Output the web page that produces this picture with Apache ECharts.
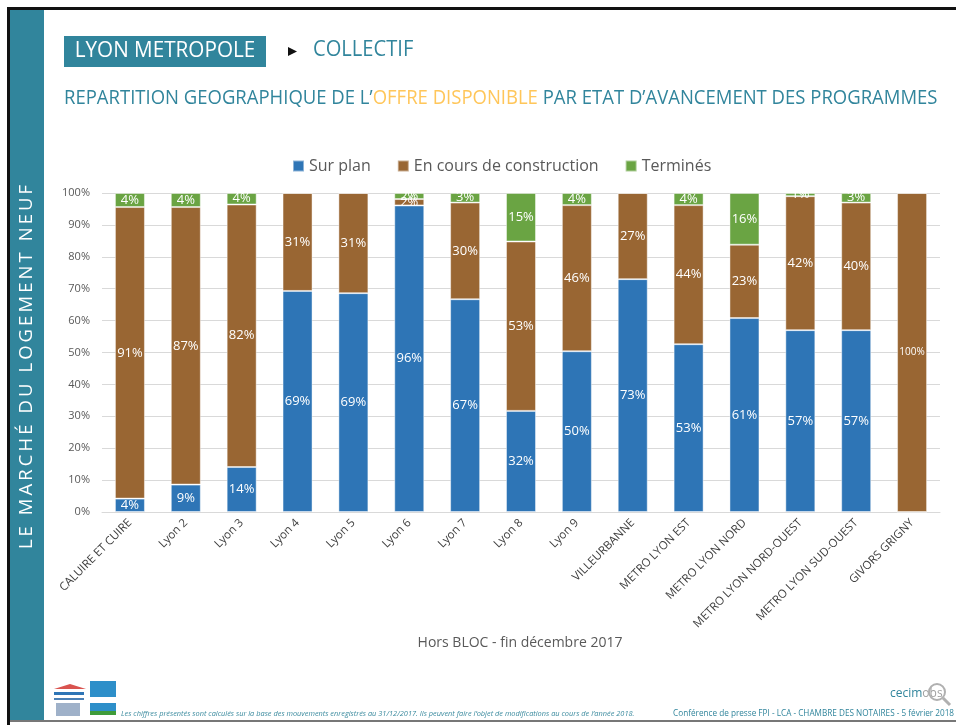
<!DOCTYPE html>
<html>
<head>
<meta charset="utf-8">
<title>Lyon Metropole - Collectif</title>
<script src="https://cdn.jsdelivr.net/npm/echarts@6/dist/echarts.min.js"></script>
<style>
  html, body { margin: 0; padding: 0; background: #fff; }
  #main { width: 956px; height: 725px; }
</style>
</head>
<body>
<div id="main"></div>
<script>
// categories (secteurs)
var categories = ['CALUIRE ET CUIRE', 'Lyon 2', 'Lyon 3', 'Lyon 4', 'Lyon 5', 'Lyon 6', 'Lyon 7', 'Lyon 8', 'Lyon 9',
  'VILLEURBANNE', 'METRO LYON EST', 'METRO LYON NORD', 'METRO LYON NORD-OUEST', 'METRO LYON SUD-OUEST', 'GIVORS GRIGNY'];

// parts en %
var surPlan      = [4.2, 8.6, 14.1, 69.3, 68.6, 96.1, 66.7, 31.7, 50.4, 73.0, 52.6, 60.8, 57.0, 57.0, 0];
var enCours      = [91.4, 87.0, 82.3, 30.7, 31.4, 2.0, 30.3, 53.1, 45.8, 27.0, 43.6, 23.0, 42.0, 40.0, 100];
var termines     = [4.4, 4.4, 3.6, 0, 0, 1.9, 3.0, 15.2, 3.8, 0, 3.8, 16.2, 1.0, 3.0, 0];

var yTicks = [0, 10, 20, 30, 40, 50, 60, 70, 80, 90, 100];

var teal = '#31859C';
var chartFont = '"Open Sans", sans-serif';

var chart = echarts.init(document.getElementById('main'), null, { renderer: 'canvas' });

function pctLabel(p) {
  if (!p.value) return '';
  return Math.round(p.value) + '%';
}

function makeSerie(name, values, color) {
  return {
    name: name,
    type: 'bar',
    stack: 'total',
    barWidth: 30,
    data: values.map(function (v) {
      // le 100% de Givors est écrit plus petit
      if (v === 100) return { value: v, label: { fontSize: 10 } };
      return v;
    }),
    itemStyle: {
      color: color,
      borderColor: 'rgba(255,255,255,0.45)',
      borderWidth: 1
    },
    label: {
      show: true,
      position: 'inside',
      color: '#fff',
      fontSize: 13,
      fontFamily: chartFont,
      formatter: pctLabel
    }
  };
}

// lettres espacées pour le bandeau vertical
var sideTitle = 'LE MARCHÉ DU LOGEMENT NEUF'.split('').join('\u2009');

var option = {
  backgroundColor: '#fff',
  animation: false,
  textStyle: { fontFamily: chartFont },
  legend: {
    top: 153,
    left: 287,
    itemWidth: 11,
    itemHeight: 11,
    itemGap: 26,
    icon: 'rect',
    textStyle: { color: '#595959', fontSize: 16, fontFamily: chartFont },
    data: ['Sur plan', 'En cours de construction', 'Terminés']
  },
  grid: {
    left: 102,
    right: 16,
    top: 193,
    bottom: 213
  },
  xAxis: {
    type: 'category',
    data: categories,
    axisLine: { lineStyle: { color: '#d9d9d9' } },
    axisTick: { show: false },
    axisLabel: {
      rotate: 45,
      interval: 0,
      color: '#404040',
      fontSize: 11.5,
      margin: 9,
      fontFamily: chartFont
    }
  },
  yAxis: {
    type: 'value',
    min: 0,
    max: 100,
    interval: 10,
    axisLine: { show: false },
    axisTick: { show: false },
    splitLine: { lineStyle: { color: '#d9d9d9' } },
    axisLabel: {
      color: '#595959',
      fontSize: 11,
      margin: 12,
      formatter: function (v) { return yTicks.indexOf(v) >= 0 ? v + '%' : ''; }
    }
  },
  series: [
    makeSerie('Sur plan', surPlan, '#2E75B6'),
    makeSerie('En cours de construction', enCours, '#996633'),
    makeSerie('Terminés', termines, '#6AA443')
  ],
  graphic: [
    // cadre noir
    { type: 'rect', shape: { x: 7, y: 7, width: 949, height: 3 }, style: { fill: '#111' } },
    { type: 'rect', shape: { x: 7, y: 7, width: 3, height: 718 }, style: { fill: '#111' } },
    { type: 'rect', shape: { x: 10, y: 720, width: 946, height: 2 }, style: { fill: '#777' } },
    // bandeau latéral
    { type: 'rect', shape: { x: 10, y: 10, width: 34, height: 710 }, style: { fill: teal } },
    {
      type: 'text', x: 27, y: 367, rotation: Math.PI / 2,
      style: {
        text: sideTitle, fill: '#fff', fontSize: 18.5,
        fontFamily: chartFont, align: 'center', verticalAlign: 'middle'
      }
    },
    // entête
    { type: 'rect', shape: { x: 64, y: 36, width: 202, height: 31 }, style: { fill: teal } },
    {
      type: 'text', x: 165, y: 51, scaleX: 0.94,
      style: {
        text: 'LYON METROPOLE', fill: '#fff', fontSize: 22, fontFamily: chartFont,
        align: 'center', verticalAlign: 'middle'
      }
    },
    { type: 'polygon', shape: { points: [[288, 47], [297, 51.5], [288, 56]] }, style: { fill: '#111' } },
    {
      type: 'text', x: 313, y: 50, scaleX: 0.915,
      style: { text: 'COLLECTIF', fill: teal, fontSize: 22, fontFamily: chartFont, verticalAlign: 'middle' }
    },
    {
      type: 'text', x: 64, y: 98, scaleX: 0.925,
      style: {
        text: '{a|REPARTITION GEOGRAPHIQUE DE L\u2019}{b|OFFRE DISPONIBLE}{a| PAR ETAT D\u2019AVANCEMENT DES PROGRAMMES}',
        verticalAlign: 'middle',
        rich: {
          a: { fill: teal, fontSize: 20, fontFamily: chartFont },
          b: { fill: '#FFC65A', fontSize: 20, fontFamily: chartFont }
        }
      }
    },
    // source
    {
      type: 'text', x: 520, y: 643,
      style: {
        text: 'Hors BLOC - fin décembre 2017', fill: '#595959', fontSize: 14,
        fontFamily: chartFont, align: 'center', verticalAlign: 'middle'
      }
    },
    // logos (approximation)
    { type: 'polygon', shape: { points: [[54, 689], [70, 684], [86, 689]] }, style: { fill: '#d9534f' } },
    { type: 'rect', shape: { x: 54, y: 692, width: 30, height: 3 }, style: { fill: '#2E75B6' } },
    { type: 'rect', shape: { x: 54, y: 698, width: 30, height: 2 }, style: { fill: '#4a7fb5' } },
    { type: 'rect', shape: { x: 56, y: 703, width: 24, height: 13 }, style: { fill: '#9fb1c9' } },
    { type: 'rect', shape: { x: 90, y: 681, width: 26, height: 16 }, style: { fill: '#2e8fc9' } },
    { type: 'rect', shape: { x: 90, y: 703, width: 26, height: 12 }, style: { fill: '#2e8fc9' } },
    { type: 'rect', shape: { x: 90, y: 711, width: 26, height: 4 }, style: { fill: '#3f9c3a' } },
    {
      type: 'text', x: 121, y: 714,
      style: {
        text: 'Les chiffres présentés sont calculés sur la base des mouvements enregistrés au 31/12/2017. Ils peuvent faire l\u2019objet de modifications au cours de l\u2019année 2018.',
        fill: '#3a8a9e', fontSize: 7.4, fontStyle: 'italic', fontFamily: chartFont, verticalAlign: 'middle'
      }
    },
    {
      type: 'text', x: 954, y: 714,
      style: {
        text: 'Conférence de presse FPI - LCA - CHAMBRE DES NOTAIRES - 5 février 2018',
        fill: '#31859C', fontSize: 8.2, fontFamily: chartFont, align: 'right', verticalAlign: 'middle'
      }
    },
    {
      type: 'text', x: 890, y: 694,
      style: {
        text: '{c|cecim}{o|obs}', verticalAlign: 'middle',
        rich: {
          c: { fill: '#31859C', fontSize: 12, fontFamily: chartFont },
          o: { fill: '#a0a0a0', fontSize: 12, fontFamily: chartFont }
        }
      }
    },
    { type: 'circle', shape: { cx: 937, cy: 692, r: 8 }, style: { fill: 'none', stroke: '#b0b0b0', lineWidth: 2 } },
    { type: 'line', shape: { x1: 943, y1: 698, x2: 950, y2: 705 }, style: { stroke: '#b0b0b0', lineWidth: 3 } }
  ]
};

chart.setOption(option);
</script>
</body>
</html>
